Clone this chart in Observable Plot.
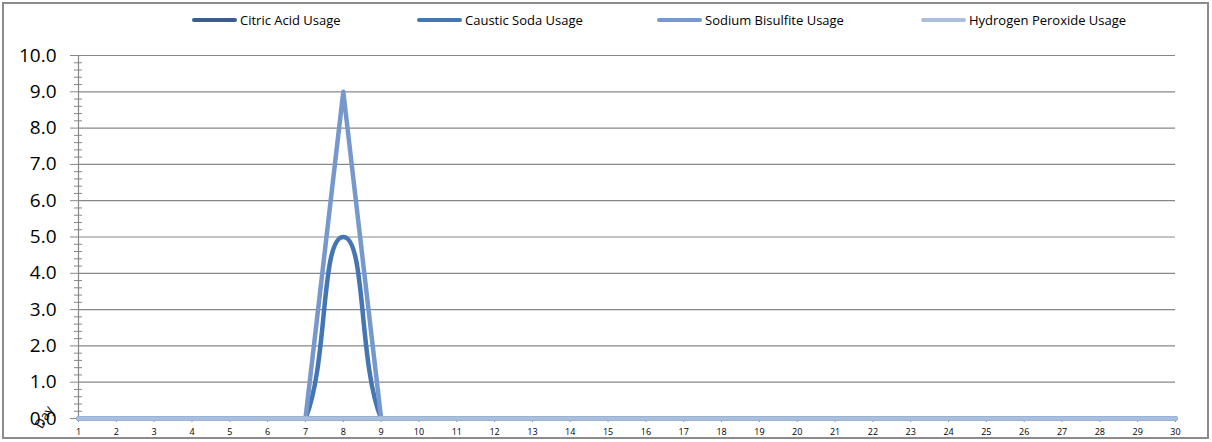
<!DOCTYPE html>
<html>
<head>
<meta charset="utf-8">
<script src="https://cdn.jsdelivr.net/npm/d3@7"></script>
<script src="https://cdn.jsdelivr.net/npm/@observablehq/plot@0.6"></script>
<style>
  html, body { margin: 0; padding: 0; background: #fff; }
  #wrap { position: relative; width: 1212px; height: 442px; overflow: hidden; font-family: "Open Sans", Lato, sans-serif; }
  #frame { position: absolute; left: 2px; top: 2px; width: 1207px; height: 437px; box-sizing: border-box; border: 2px solid #8c8c8c; pointer-events: none; }
  #legend { position: absolute; left: 0; top: 0; width: 1212px; height: 40px; }
  .item { position: absolute; top: 12px; height: 16px; display: flex; align-items: center; font-size: 13px; color: #000; white-space: nowrap; font-family: "Open Sans", sans-serif; }
  .swatch { width: 45px; height: 4px; border-radius: 2px; margin-right: 3px; }
  #chart { position: absolute; left: 0; top: 40px; }
  #daytitle { position: absolute; left: 32px; top: 408px; font-size: 13px; transform: rotate(-60deg); transform-origin: center; }
</style>
</head>
<body>
<div id="wrap">
  <div id="legend"></div>
  <div id="chart"></div>
  <div id="daytitle">Day</div>
  <div id="frame"></div>
</div>
<script>
const days = [1,2,3,4,5,6,7,8,9,10,11,12,13,14,15,16,17,18,19,20,21,22,23,24,25,26,27,28,29,30];
const citricAcid      = [0,0,0,0,0,0,0,0,0,0,0,0,0,0,0,0,0,0,0,0,0,0,0,0,0,0,0,0,0,0];
const causticSoda     = [0,0,0,0,0,0,0,5,0,0,0,0,0,0,0,0,0,0,0,0,0,0,0,0,0,0,0,0,0,0];
const sodiumBisulfite = [0,0,0,0,0,0,0,9,0,0,0,0,0,0,0,0,0,0,0,0,0,0,0,0,0,0,0,0,0,0];
const hydrogenPeroxide= [0,0,0,0,0,0,0,0,0,0,0,0,0,0,0,0,0,0,0,0,0,0,0,0,0,0,0,0,0,0];
const seriesNames = ["Citric Acid Usage","Caustic Soda Usage","Sodium Bisulfite Usage","Hydrogen Peroxide Usage"];
const seriesColors = ["#3b5e8c","#4376b3","#7698cc","#a9bfdd"];
const yTicks = [0,1,2,3,4,5,6,7,8,9,10];
const yTickLabels = ["0.0","1.0","2.0","3.0","4.0","5.0","6.0","7.0","8.0","9.0","10.0"];

const seriesValues = [citricAcid, causticSoda, sodiumBisulfite, hydrogenPeroxide];
const rows = seriesValues.map(vals => days.map((d, i) => ({day: d, value: vals[i]})));
const minorTicks = d3.range(0, 50).map(i => i / 5).filter(v => v % 1 !== 0);

// legend
const legendX = [192, 417, 657, 921];
const legend = document.getElementById("legend");
seriesNames.forEach((name, i) => {
  const it = document.createElement("div");
  it.className = "item";
  it.style.left = legendX[i] + "px";
  it.innerHTML = `<span class="swatch" style="background:${seriesColors[i]}"></span><span>${name}</span>`;
  legend.appendChild(it);
});

const curves = ["linear", "cardinal", "linear", "linear"];
const chart = Plot.plot({
  width: 1212,
  height: 402,
  marginLeft: 78,
  marginRight: 37,
  marginTop: 15,
  marginBottom: 24,
  x: {domain: [1, 30], label: null},
  y: {domain: [0, 10], label: null},
  style: {fontFamily: "'Open Sans', Lato, sans-serif", background: "transparent", overflow: "visible"},
  marks: [
    Plot.ruleY(yTicks, {stroke: "#878787", strokeWidth: 1.2}),
    Plot.ruleX([1], {stroke: "#878787", strokeWidth: 1.2}),
    Plot.axisY({ticks: minorTicks, tickSize: 8, dx: 4, text: null, label: null, color: "#878787"}),
    Plot.axisY({ticks: yTicks, tickSize: 8, text: null, label: null, color: "#878787"}),
    Plot.axisY({ticks: yTicks, tickSize: 0, tickPadding: 22, fontSize: 19, color: "#000",
      tickFormat: d => yTickLabels[yTicks.indexOf(d)], label: null}),
    Plot.axisX({ticks: days, tickSize: 4, text: null, label: null, color: "#878787"}),
    Plot.axisX({ticks: days, tickSize: 0, tickPadding: 10, fontSize: 9, color: "#000", tickFormat: d => String(d), label: null}),
    ...rows.map((data, i) => Plot.line(data, {
      x: "day", y: "value", stroke: seriesColors[i], strokeWidth: 4.5,
      curve: curves[i], tension: i === 1 ? -0.8 : undefined,
      strokeLinejoin: "round", strokeLinecap: "round",
      clip: i === 1 ? "frame" : undefined
    }))
  ]
});
document.getElementById("chart").appendChild(chart);
</script>
</body>
</html>
